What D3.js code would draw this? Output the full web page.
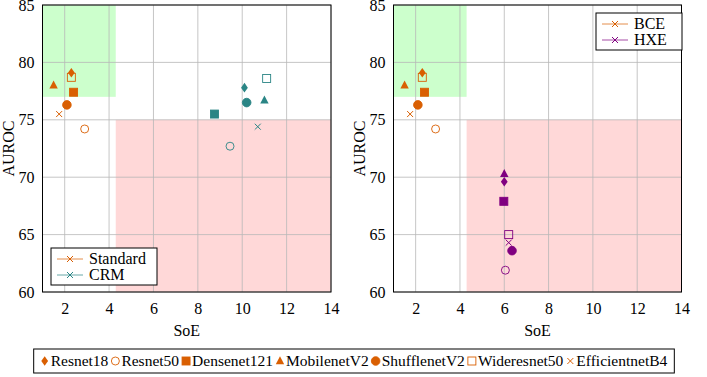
<!DOCTYPE html>
<html>
<head>
<meta charset="utf-8">
<script src="https://cdn.jsdelivr.net/npm/d3@7"></script>
<style>
  body { margin: 0; background: #fff; }
  svg text { font-family: "Liberation Serif", "Times New Roman", serif; fill: #000; }
</style>
</head>
<body>
<div id="chart"></div>
<script>
const width = 707, height = 377;

// data
const models = ["Resnet18", "Resnet50", "Densenet121", "MobilenetV2", "ShufflenetV2", "Wideresnet50", "EfficientnetB4"];
const shapes = ["diamond", "circleOpen", "square", "triangle", "circle", "squareOpen", "cross"];

const standardSoE   = [2.3, 2.9, 2.4, 1.5, 2.1, 2.3, 1.75];
const standardAUROC = [79.1, 74.2, 77.4, 78.0, 76.3, 78.7, 75.5];
const crmSoE        = [10.1, 9.45, 8.75, 11.0, 10.2, 11.1, 10.7];
const crmAUROC      = [77.8, 72.7, 75.5, 76.7, 76.5, 78.6, 74.4];
const hxeSoE        = [6.0, 6.05, 5.98, 6.0, 6.35, 6.2, 6.2];
const hxeAUROC      = [69.6, 61.9, 67.9, 70.3, 63.6, 65.0, 64.3];

const xTicks = [2, 4, 6, 8, 10, 12, 14];
const yTicks = [60, 65, 70, 75, 80, 85];
const greenX = [1, 4.3], greenY = [77, 85];
const redX = [4.3, 14], redY = [60, 75];

const orange = "#d95f02", teal = "#2a8585", purple = "#800080";

const svg = d3.select("#chart").append("svg")
    .attr("width", width).attr("height", height);

const y = d3.scaleLinear().domain([60, 85]).range([292, 5]);

function marker(g, shape, cx, cy, color) {
  let s = 4;
  if (shape == "circle" || shape == "circleOpen") {
    g.append("circle").attr("cx", cx).attr("cy", cy).attr("r", shape == "circle" ? 4.3 : 4)
      .attr("fill", shape == "circle" ? color : "none").attr("stroke", color).attr("stroke-width", 0.9);
  } else if (shape == "square" || shape == "squareOpen") {
    g.append("rect").attr("x", cx - s).attr("y", cy - s).attr("width", 2 * s).attr("height", 2 * s)
      .attr("fill", shape == "square" ? color : "none").attr("stroke", color).attr("stroke-width", 0.9);
  } else if (shape == "diamond") {
    g.append("path").attr("d", `M${cx},${cy - 4.8}L${cx + 3.4},${cy}L${cx},${cy + 4.8}L${cx - 3.4},${cy}Z`)
      .attr("fill", color);
  } else if (shape == "triangle") {
    g.append("path").attr("d", `M${cx},${cy - 4.8}L${cx + 4.2},${cy + 3.2}L${cx - 4.2},${cy + 3.2}Z`)
      .attr("fill", color);
  } else if (shape == "cross") {
    g.append("path").attr("d", `M${cx - 3},${cy - 3}L${cx + 3},${cy + 3}M${cx - 3},${cy + 3}L${cx + 3},${cy - 3}`)
      .attr("stroke", color).attr("stroke-width", 1);
  }
}

function panel(x0, x1, series, legend) {
  const x = d3.scaleLinear().domain([1, 14]).range([x0, x1]);
  const g = svg.append("g");

  g.append("rect").attr("x", x(greenX[0])).attr("y", y(greenY[1]))
    .attr("width", x(greenX[1]) - x(greenX[0])).attr("height", y(greenY[0]) - y(greenY[1]))
    .attr("fill", "#ccffcc");
  g.append("rect").attr("x", x(redX[0])).attr("y", y(redY[1]))
    .attr("width", x(redX[1]) - x(redX[0])).attr("height", y(redY[0]) - y(redY[1]))
    .attr("fill", "#ffd8d8");

  // grid
  g.selectAll(".gx").data(xTicks).enter().append("line")
    .attr("x1", d => x(d)).attr("x2", d => x(d)).attr("y1", y(60)).attr("y2", y(85))
    .attr("stroke", "#b8b8b8").attr("stroke-width", 0.8);
  g.selectAll(".gy").data(yTicks).enter().append("line")
    .attr("x1", x(1)).attr("x2", x(14)).attr("y1", d => y(d)).attr("y2", d => y(d))
    .attr("stroke", "#b8b8b8").attr("stroke-width", 0.8);

  // axes
  const ax = g.append("g").attr("transform", `translate(0,${y(60)})`)
    .call(d3.axisBottom(x).tickValues(xTicks).tickSize(0).tickPadding(11));
  ax.select(".domain").remove();
  ax.selectAll("text").attr("font-size", 16).attr("font-family", "Liberation Serif");
  const ay = g.append("g").attr("transform", `translate(${x(1)},0)`)
    .call(d3.axisLeft(y).tickValues(yTicks).tickSize(0).tickPadding(8));
  ay.select(".domain").remove();
  ay.selectAll("text").attr("font-size", 16).attr("font-family", "Liberation Serif");

  g.append("rect").attr("x", x(1)).attr("y", y(85))
    .attr("width", x(14) - x(1)).attr("height", y(60) - y(85))
    .attr("fill", "none").attr("stroke", "#000").attr("stroke-width", 1);

  g.append("text").attr("x", (x0 + x1) / 2).attr("y", 336).attr("text-anchor", "middle")
    .attr("font-size", 16).text("SoE");
  g.append("text").attr("transform", `translate(${x0 - 29},${(y(60) + y(85)) / 2}) rotate(-90)`)
    .attr("text-anchor", "middle").attr("font-size", 16).text("AUROC");

  for (const s of series) {
    s.xs.forEach((v, i) => marker(g, shapes[i], x(v), y(s.ys[i]), s.color));
  }

  // legend box
  const lg = g.append("g");
  lg.append("rect").attr("x", legend.x).attr("y", legend.y).attr("width", legend.w).attr("height", 37)
    .attr("fill", "#fff").attr("stroke", "#000").attr("stroke-width", 1);
  series.forEach((s, i) => {
    const ly = legend.y + 11 + i * 16;
    lg.append("line").attr("x1", legend.x + 6).attr("x2", legend.x + 32).attr("y1", ly).attr("y2", ly)
      .attr("stroke", s.color).attr("stroke-opacity", 0.7).attr("stroke-width", 1);
    marker(lg, "cross", legend.x + 19, ly, s.color);
    lg.append("text").attr("x", legend.x + 38).attr("y", ly + 5).attr("font-size", 16).text(s.name);
  });
}

panel(42.5, 331, [
  { name: "Standard", xs: standardSoE, ys: standardAUROC, color: orange },
  { name: "CRM", xs: crmSoE, ys: crmAUROC, color: teal }
], { x: 51, y: 248, w: 106 });

panel(393.5, 681.5, [
  { name: "BCE", xs: standardSoE, ys: standardAUROC, color: orange },
  { name: "HXE", xs: hxeSoE, ys: hxeAUROC, color: purple }
], { x: 596, y: 13, w: 86 });

// bottom legend
const bl = svg.append("g");
const box = bl.append("rect").attr("y", 349).attr("height", 24)
  .attr("fill", "#fff").attr("stroke", "#000").attr("stroke-width", 1);
let cx = 0;
const items = bl.append("g");
models.forEach((m, i) => {
  marker(items, shapes[i], cx + 4, 361, orange);
  const t = items.append("text").attr("x", cx + 10).attr("y", 366).attr("font-size", 15.5).text(m);
  cx += 10 + t.node().getComputedTextLength() + 3;
});
const total = cx - 3;
const start = 354 - total / 2;
items.attr("transform", `translate(${start},0)`);
box.attr("x", start - 7).attr("width", total + 14);
</script>
</body>
</html>
